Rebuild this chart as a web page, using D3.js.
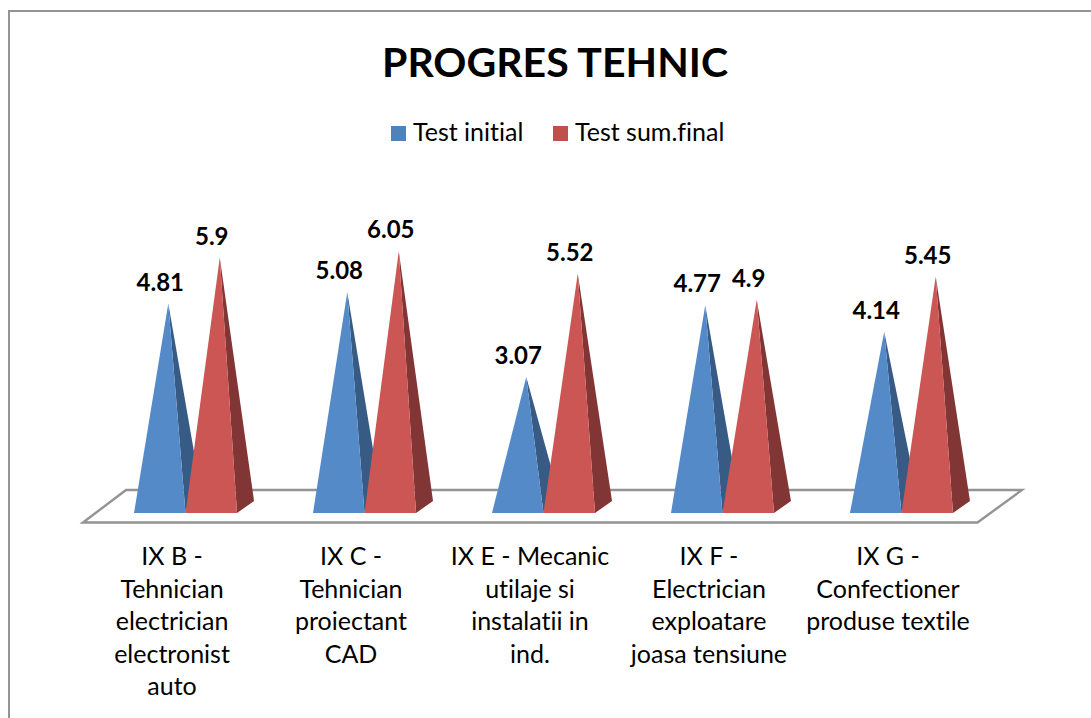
<!DOCTYPE html>
<html>
<head>
<meta charset="utf-8">
<script src="https://cdn.jsdelivr.net/npm/d3@7"></script>
<style>
    html, body { margin: 0; padding: 0; background: #fff; overflow: hidden; }
    svg { display: block; }
    text { font-family: Lato, "Open Sans", sans-serif; fill: #000; font-variant-ligatures: none; }
</style>
</head>
<body>
<div id="chart"></div>
<script>
var categories = ['IX B', 'IX C', 'IX E', 'IX F', 'IX G']
var categoryLines = [
    ['IX B -', 'Tehnician', 'electrician', 'electronist', 'auto'],
    ['IX C -', 'Tehnician', 'proiectant', 'CAD'],
    ['IX E - Mecanic', 'utilaje si', 'instalatii in', 'ind.'],
    ['IX F -', 'Electrician', 'exploatare', 'joasa tensiune'],
    ['IX G -', 'Confectioner', 'produse textile']
]
var seriesNames = ['Test initial', 'Test sum.final']
var testInitial = [4.81, 5.08, 3.07, 4.77, 4.14]
var testFinal = [5.9, 6.05, 5.52, 4.9, 5.45]

var width = 1091, height = 718
var svg = d3.select('#chart').append('svg').attr('width', width).attr('height', height)

var frontColors = ['#558ac8', '#cb5654']
var sideColors = ['#375b85', '#823535']
var legendColors = ['#4f81bd', '#c0504d']
var baseY = 513, depthX = 17, depthY = -12

// one band per category, two sub bands for the series
var x = d3.scaleBand().domain(categories).range([96, 991]).paddingInner(0.4245).paddingOuter(0.2125)
var x1 = d3.scaleBand().domain(d3.range(2)).range([0, x.bandwidth()])
var y = d3.scaleLinear().domain([0, 7]).range([506.5, 506.5 - 7 * 42.2])

// chart frame, it runs off the right and the bottom of the picture
svg.append('path')
    .attr('d', 'M9,719V11H1092')
    .attr('fill', 'none')
    .attr('stroke', '#949494')
    .attr('stroke-width', 2)

// floor
svg.append('path')
    .attr('d', 'M83,522.5L126,490H1022L977.5,522.5Z')
    .attr('fill', '#fff')
    .attr('stroke', '#949494')
    .attr('stroke-width', 2.4)

svg.append('text')
    .attr('x', 555).attr('y', 77)
    .attr('text-anchor', 'middle')
    .attr('font-size', 41).attr('font-weight', 700)
    .text('PROGRES TEHNIC')

var legendX = [391, 553]
seriesNames.forEach(function (name, i) {
    svg.append('rect')
        .attr('x', legendX[i]).attr('y', 126)
        .attr('width', 15).attr('height', 15)
        .attr('fill', legendColors[i])
    svg.append('text')
        .attr('x', legendX[i] + 22).attr('y', 141)
        .attr('font-size', 25)
        .text(name)
})

function pyramidFront(left, w, top) {
    return 'M' + left + ',' + baseY + 'L' + (left + w) + ',' + baseY +
        'L' + (left + w / 2 + depthX / 2) + ',' + top + 'Z'
}
function pyramidSide(left, w, top) {
    return 'M' + (left + w) + ',' + baseY + 'L' + (left + w + depthX) + ',' + (baseY + depthY) +
        'L' + (left + w / 2 + depthX / 2) + ',' + top + 'Z'
}

var series = [testInitial, testFinal]
series.forEach(function (values, s) {
    var g = svg.append('g').attr('class', 'series-' + s)
    g.selectAll('path.side')
        .data(values)
        .enter()
        .append('path')
        .attr('class', 'side')
        .attr('fill', sideColors[s])
        .attr('d', function (d, i) {
            return pyramidSide(x(categories[i]) + x1(s), x1.bandwidth(), y(d))
        })
    g.selectAll('path.front')
        .data(values)
        .enter()
        .append('path')
        .attr('class', 'front')
        .attr('fill', frontColors[s])
        .attr('d', function (d, i) {
            return pyramidFront(x(categories[i]) + x1(s), x1.bandwidth(), y(d))
        })
    g.selectAll('text')
        .data(values)
        .enter()
        .append('text')
        .attr('x', function (d, i) {
            return x(categories[i]) + x1(s) + x1.bandwidth() / 2 + depthX / 2 - 8
        })
        .attr('y', function (d) { return y(d) - 13 })
        .attr('text-anchor', 'middle')
        .attr('font-size', 24).attr('font-weight', 700)
        .text(function (d) { return d })
})

categoryLines.forEach(function (lines, i) {
    var label = svg.append('text')
        .attr('text-anchor', 'middle')
        .attr('font-size', 25)
    lines.forEach(function (line, k) {
        label.append('tspan')
            .attr('x', x(categories[i]) + x.bandwidth() / 2 - 13.5)
            .attr('y', 565 + k * 32.5)
            .text(line)
    })
})
</script>
</body>
</html>
